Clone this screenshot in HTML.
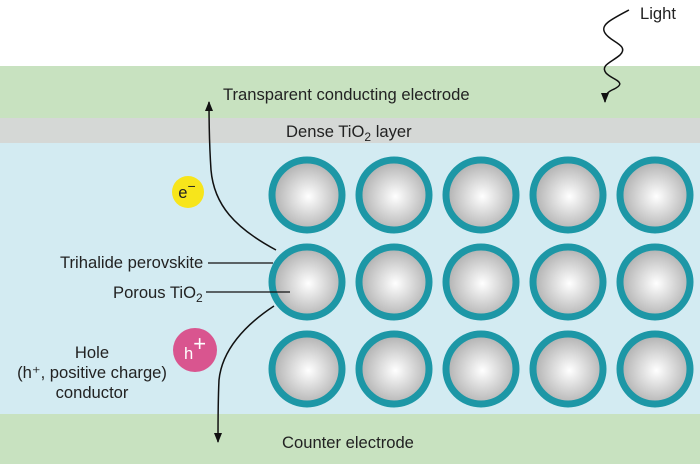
<!DOCTYPE html>
<html><head><meta charset="utf-8"><style>
html,body{margin:0;padding:0;width:700px;height:464px;overflow:hidden;background:#fff}
svg{display:block}
text{font-family:"Liberation Sans",sans-serif;fill:#222;font-size:16.6px}
</style></head><body>
<svg width="700" height="464" viewBox="0 0 700 464" xmlns="http://www.w3.org/2000/svg">
<defs>
<radialGradient id="g" cx="0.52" cy="0.52" r="0.55">
<stop offset="0" stop-color="#ffffff"/><stop offset="1" stop-color="#aaaaaa"/>
</radialGradient>
<marker id="ah" markerWidth="10" markerHeight="8" refX="9" refY="4" orient="auto" markerUnits="userSpaceOnUse">
<path d="M0,0 L10,4 L0,8 Z" fill="#111"/>
</marker>
</defs>
<rect x="0" y="66" width="700" height="52" fill="#c8e2c0"/>
<rect x="0" y="118" width="700" height="25" fill="#d5d8d6"/>
<rect x="0" y="143" width="700" height="271" fill="#d3ebf2"/>
<rect x="0" y="414" width="700" height="50" fill="#c8e2c0"/>
<g stroke="#1d97a6" stroke-width="7" fill="url(#g)">
<circle cx="307" cy="195" r="35"/><circle cx="394" cy="195" r="35"/><circle cx="481" cy="195" r="35"/><circle cx="568" cy="195" r="35"/><circle cx="655" cy="195" r="35"/>
<circle cx="307" cy="282" r="35"/><circle cx="394" cy="282" r="35"/><circle cx="481" cy="282" r="35"/><circle cx="568" cy="282" r="35"/><circle cx="655" cy="282" r="35"/>
<circle cx="307" cy="369" r="35"/><circle cx="394" cy="369" r="35"/><circle cx="481" cy="369" r="35"/><circle cx="568" cy="369" r="35"/><circle cx="655" cy="369" r="35"/>
</g>
<text x="223" y="100">Transparent conducting electrode</text>
<text x="286" y="137">Dense TiO<tspan font-size="12" dy="4">2</tspan><tspan dy="-4"> layer</tspan></text>
<text x="282" y="448">Counter electrode</text>
<text x="640" y="19">Light</text>
<text x="60" y="268">Trihalide perovskite</text>
<text x="113" y="298">Porous TiO<tspan font-size="12" dy="4">2</tspan></text>
<text x="92" y="358" text-anchor="middle">Hole</text>
<text x="92" y="378" text-anchor="middle">(h⁺, positive charge)</text>
<text x="92" y="398" text-anchor="middle">conductor</text>
<line x1="208" y1="263" x2="273" y2="263" stroke="#111" stroke-width="1.3"/>
<line x1="206" y1="292" x2="290" y2="292" stroke="#111" stroke-width="1.3"/>
<circle cx="188" cy="192" r="16" fill="#f7e51b"/>
<text x="187" y="198" text-anchor="middle" font-size="20">e<tspan dy="-7" font-size="14">−</tspan></text>
<circle cx="195" cy="350" r="22" fill="#d9558f"/>
<text x="195" y="359" text-anchor="middle" font-size="26" style="fill:#fff">h<tspan dy="-8" font-size="22" style="fill:#fff">+</tspan></text>
<path d="M276,250 C235,228 214,205 211,170 C209,140 209,120 209,102" fill="none" stroke="#111" stroke-width="1.5" marker-end="url(#ah)"/>
<path d="M274,306 C245,325 222,350 219,380 C218,400 218,420 218,442" fill="none" stroke="#111" stroke-width="1.5" marker-end="url(#ah)"/>
<path d="M629,10 C610,20 600,25 605,33 C610,42 630,45 620,55 C612,62 600,65 606,73 C612,80 630,82 612,90 C606,93 605,96 605,102" fill="none" stroke="#111" stroke-width="1.5" marker-end="url(#ah)"/>
</svg>
</body></html>
